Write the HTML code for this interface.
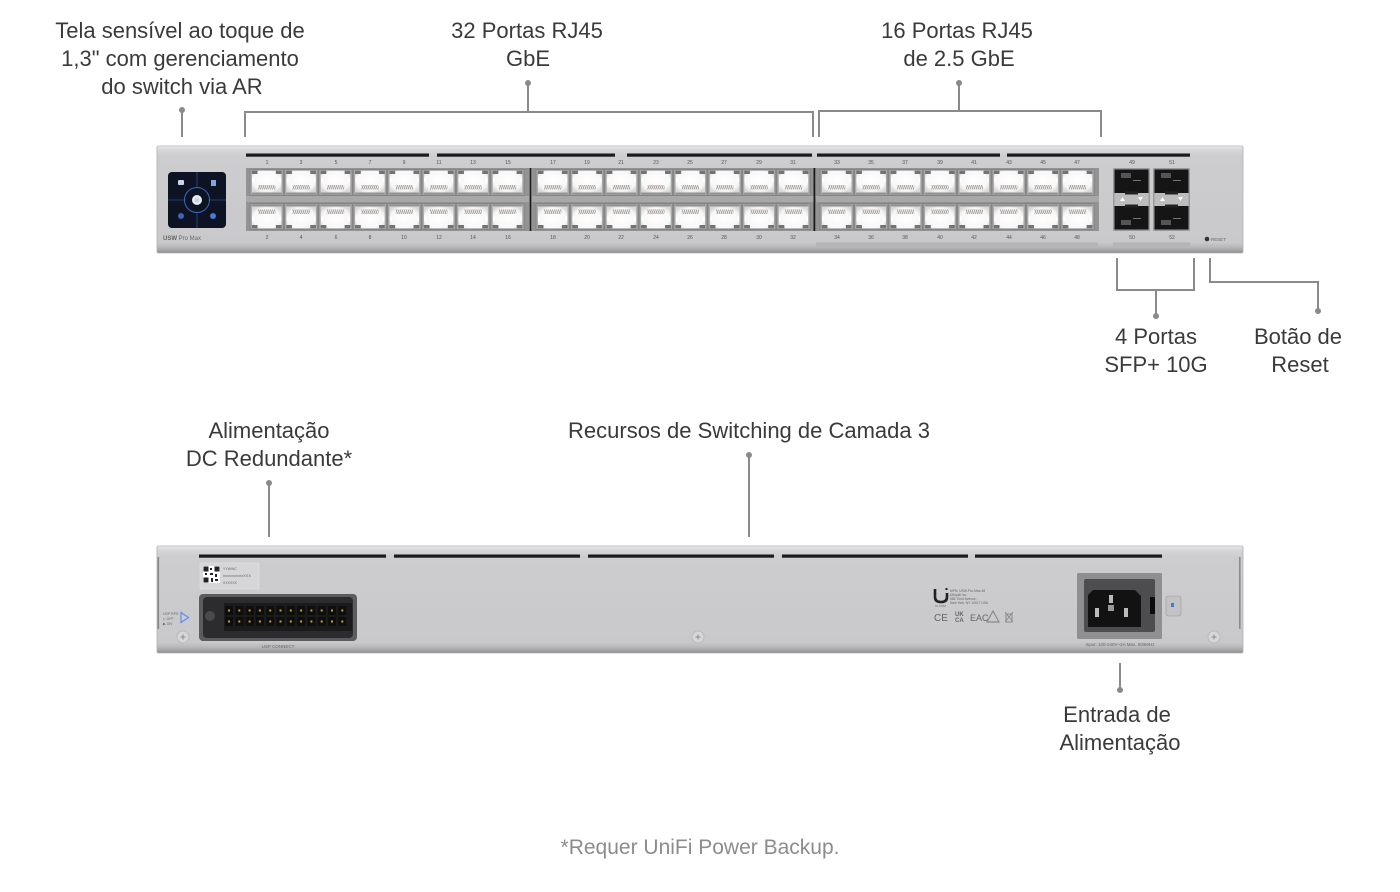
<!DOCTYPE html>
<html><head><meta charset="utf-8"><style>
html,body{margin:0;padding:0;background:#fff;}
svg{display:block;}
.lb{font-family:"Liberation Sans",sans-serif;font-size:22px;fill:#3a3a3a;text-anchor:middle;}
.ft{font-family:"Liberation Sans",sans-serif;font-size:21px;fill:#8c8c8c;text-anchor:middle;}
.pn{font-family:"Liberation Sans",sans-serif;font-size:5px;fill:#555;text-anchor:middle;}
.tiny{font-family:"Liberation Sans",sans-serif;fill:#666;}
</style></head><body>
<svg width="1400" height="892" viewBox="0 0 1400 892" xmlns="http://www.w3.org/2000/svg">
<defs>
  <linearGradient id="body" x1="0" y1="0" x2="0" y2="1">
    <stop offset="0" stop-color="#ededee"/>
    <stop offset="0.03" stop-color="#d8d8da"/>
    <stop offset="0.1" stop-color="#cdcdcf"/>
    <stop offset="0.9" stop-color="#c9c9cb"/>
    <stop offset="0.95" stop-color="#b6b6b8"/>
    <stop offset="1" stop-color="#8e8e90"/>
  </linearGradient>
  <radialGradient id="hole" cx="0.5" cy="0.45" r="0.62">
    <stop offset="0" stop-color="#ffffff"/>
    <stop offset="0.75" stop-color="#f7f7f7"/>
    <stop offset="1" stop-color="#d8d8d8"/>
  </radialGradient>
  <pattern id="hatch" width="2" height="6" patternUnits="userSpaceOnUse" patternTransform="skewX(-20)">
    <rect width="2" height="6" fill="#f0f0f0"/>
    <rect width="0.7" height="6" fill="#8a7a70"/>
  </pattern>
  <g id="pt">
    <rect width="34.4" height="27" fill="#858585"/>
    <rect x="1" y="1" width="32.4" height="25" fill="#a8a8a8"/>
    <path d="M8 1.8 H26.4 V5 H32 V23.5 H2.4 V5 H8 Z" fill="url(#hole)"/>
    <path d="M2.4 5 H8 V1.8 L2.4 1.8 Z M26.4 1.8 V5 H32 V1.8 Z" fill="#737373"/>
    <rect x="8.5" y="16" width="17.4" height="4.5" fill="url(#hatch)"/>
    <rect x="2.8" y="9" width="1.8" height="4" fill="#ffffff"/>
    <rect x="29.8" y="9" width="1.8" height="4" fill="#ffffff"/>
    <rect x="2.4" y="23.5" width="29.6" height="2.2" fill="#939393"/>
  </g>
  <g id="blk">
    <rect width="283" height="63" fill="#939393"/>
    <rect x="0" y="28" width="283" height="6" fill="#a8a8a8"/>
    <use href="#pt" x="3.5" y="1"/>
    <use href="#pt" x="37.9" y="1"/>
    <use href="#pt" x="72.3" y="1"/>
    <use href="#pt" x="106.7" y="1"/>
    <use href="#pt" x="141.1" y="1"/>
    <use href="#pt" x="175.5" y="1"/>
    <use href="#pt" x="209.9" y="1"/>
    <use href="#pt" x="244.3" y="1"/>
    <g transform="translate(0,62) scale(1,-1)">
      <use href="#pt" x="3.5" y="0"/>
      <use href="#pt" x="37.9" y="0"/>
      <use href="#pt" x="72.3" y="0"/>
      <use href="#pt" x="106.7" y="0"/>
      <use href="#pt" x="141.1" y="0"/>
      <use href="#pt" x="175.5" y="0"/>
      <use href="#pt" x="209.9" y="0"/>
      <use href="#pt" x="244.3" y="0"/>
    </g>
  </g>
  <g id="sfp">
    <rect width="37" height="63" rx="1.5" fill="#9a9a9a"/>
    <rect x="1.5" y="1.5" width="34" height="24" fill="#151515"/>
    <rect x="1.5" y="37.5" width="34" height="24" fill="#151515"/>
    <rect x="1.5" y="25" width="34" height="13" fill="#bdbdbd"/>
    <rect x="12" y="23.5" width="13" height="3" fill="#222"/>
    <rect x="12" y="36.5" width="13" height="3" fill="#222"/>
    <path d="M7 33 L9.5 29 L12 33 Z" fill="#fff"/>
    <path d="M25 29 L30 29 L27.5 33 Z" fill="#fff"/>
    <rect x="8" y="5" width="10" height="5" fill="#555"/>
    <rect x="8" y="52" width="10" height="5" fill="#555"/>
    <rect x="20" y="12" width="8" height="1" fill="#777"/>
    <rect x="20" y="50" width="8" height="1" fill="#777"/>
  </g>
  <g id="screw">
    <circle r="6.5" fill="#b9b9bb"/>
    <circle r="5.5" fill="#d7d7d9"/>
    <path d="M-2.5 0 H2.5 M0 -2.5 V2.5" stroke="#888" stroke-width="1"/>
  </g>
</defs>

<!-- ============ LABELS TOP ============ -->
<text class="lb" x="180" y="38">Tela sensível ao toque de</text>
<text class="lb" x="180" y="66">1,3" com gerenciamento</text>
<text class="lb" x="182" y="94">do switch via AR</text>
<text class="lb" x="527" y="38">32 Portas RJ45</text>
<text class="lb" x="528" y="66">GbE</text>
<text class="lb" x="957" y="38">16 Portas RJ45</text>
<text class="lb" x="959" y="66">de 2.5 GbE</text>

<g stroke="#8a8a8a" stroke-width="2" fill="none">
  <path d="M182 110 V137"/>
  <path d="M528 83 V112"/>
  <path d="M245 137 V112 H813 V137"/>
  <path d="M959 83 V111"/>
  <path d="M819 137 V111 H1101 V137"/>
  <path d="M1117 258 V290 H1194 V258"/>
  <path d="M1156 290 V316"/>
  <path d="M1210 258 V282 H1318 V311"/>
  <path d="M269 483 V537"/>
  <path d="M749 455 V537"/>
  <path d="M1120 663 V690"/>
</g>
<g fill="#8a8a8a">
  <circle cx="182" cy="110" r="3"/>
  <circle cx="528" cy="83" r="3"/>
  <circle cx="959" cy="83" r="3"/>
  <circle cx="1156" cy="316" r="3"/>
  <circle cx="1318" cy="311" r="3"/>
  <circle cx="269" cy="483" r="3"/>
  <circle cx="749" cy="455" r="3"/>
  <circle cx="1120" cy="690" r="3"/>
</g>

<text class="lb" x="1156" y="344">4 Portas</text>
<text class="lb" x="1156" y="372">SFP+ 10G</text>
<text class="lb" x="1298" y="344">Botão de</text>
<text class="lb" x="1300" y="372">Reset</text>

<text class="lb" x="269" y="438">Alimentação</text>
<text class="lb" x="269" y="466">DC Redundante*</text>
<text class="lb" x="749" y="438">Recursos de Switching de Camada 3</text>
<text class="lb" x="1117" y="722">Entrada de</text>
<text class="lb" x="1120" y="750">Alimentação</text>
<text class="ft" x="700" y="854">*Requer UniFi Power Backup.</text>

<!-- ============ FRONT PANEL ============ -->
<rect x="157" y="146" width="1086" height="107" rx="1.5" fill="url(#body)"/>
<rect x="157" y="146" width="1086" height="107" rx="1.5" fill="none" stroke="#b2b2b4" stroke-width="0.8"/>
<g fill="#1a1a1a">
  <rect x="246" y="153.5" width="183" height="3.2"/>
  <rect x="437" y="153.5" width="178" height="3.2"/>
  <rect x="627" y="153.5" width="185" height="3.2"/>
  <rect x="817" y="153.5" width="183" height="3.2"/>
  <rect x="1007" y="153.5" width="183" height="3.2"/>
</g>
<!-- touchscreen -->
<rect x="168" y="172" width="58" height="56" rx="4" fill="#0d1322"/>
<g stroke="#2a4f9a" stroke-width="0.8" fill="none">
  <path d="M197 172 V228 M168 200 H226"/>
  <circle cx="197" cy="200" r="12.5" stroke="#3a66c4" stroke-width="1"/>
</g>
<circle cx="197" cy="200" r="11.5" fill="#0d1322"/>
<circle cx="197" cy="200" r="5" fill="#e8ecf4"/>
<circle cx="197" cy="200" r="2.5" fill="#c8d2e6"/>
<rect x="178" y="180" width="6" height="5" rx="1" fill="#c9d4e8"/>
<rect x="211" y="180" width="5" height="6" fill="#7fa3e6"/>
<circle cx="181" cy="216" r="3" fill="#3d64b8"/>
<circle cx="213" cy="216" r="3" fill="#4a7ad6"/>
<text class="tiny" x="163" y="240" font-size="6" fill="#333"><tspan font-weight="bold">USW</tspan> Pro Max</text>

<!-- port blocks -->
<use href="#blk" x="246" y="168"/>
<use href="#blk" x="532" y="168"/>
<use href="#blk" x="816" y="168"/>
<rect x="529.5" y="168" width="2" height="63" fill="#1a1a1a"/>
<rect x="813.5" y="168" width="2" height="63" fill="#1a1a1a"/>

<!-- port numbers -->
<g class="pn">
<text x="267" y="164" class="pn">1</text><text x="301" y="164" class="pn">3</text><text x="336" y="164" class="pn">5</text><text x="370" y="164" class="pn">7</text><text x="404" y="164" class="pn">9</text><text x="439" y="164" class="pn">11</text><text x="473" y="164" class="pn">13</text><text x="508" y="164" class="pn">15</text>
<text x="553" y="164" class="pn">17</text><text x="587" y="164" class="pn">19</text><text x="621" y="164" class="pn">21</text><text x="656" y="164" class="pn">23</text><text x="690" y="164" class="pn">25</text><text x="724" y="164" class="pn">27</text><text x="759" y="164" class="pn">29</text><text x="793" y="164" class="pn">31</text>
<text x="837" y="164" class="pn">33</text><text x="871" y="164" class="pn">35</text><text x="905" y="164" class="pn">37</text><text x="940" y="164" class="pn">39</text><text x="974" y="164" class="pn">41</text><text x="1009" y="164" class="pn">43</text><text x="1043" y="164" class="pn">45</text><text x="1077" y="164" class="pn">47</text>
<text x="267" y="239" class="pn">2</text><text x="301" y="239" class="pn">4</text><text x="336" y="239" class="pn">6</text><text x="370" y="239" class="pn">8</text><text x="404" y="239" class="pn">10</text><text x="439" y="239" class="pn">12</text><text x="473" y="239" class="pn">14</text><text x="508" y="239" class="pn">16</text>
<text x="553" y="239" class="pn">18</text><text x="587" y="239" class="pn">20</text><text x="621" y="239" class="pn">22</text><text x="656" y="239" class="pn">24</text><text x="690" y="239" class="pn">26</text><text x="724" y="239" class="pn">28</text><text x="759" y="239" class="pn">30</text><text x="793" y="239" class="pn">32</text>
<text x="837" y="239" class="pn">34</text><text x="871" y="239" class="pn">36</text><text x="905" y="239" class="pn">38</text><text x="940" y="239" class="pn">40</text><text x="974" y="239" class="pn">42</text><text x="1009" y="239" class="pn">44</text><text x="1043" y="239" class="pn">46</text><text x="1077" y="239" class="pn">48</text>
<text x="1132" y="164" class="pn">49</text><text x="1172" y="164" class="pn">51</text>
<text x="1132" y="239" class="pn">50</text><text x="1172" y="239" class="pn">52</text>
</g>
<rect x="816" y="242.5" width="282" height="4" fill="#b4b4b6"/>
<rect x="1113" y="242.5" width="77" height="4" fill="#b4b4b6"/>
<!-- SFP -->
<use href="#sfp" x="1113" y="168"/>
<use href="#sfp" x="1153" y="168"/>
<!-- reset -->
<circle cx="1207" cy="239" r="2.3" fill="#333"/>
<text class="tiny" x="1211" y="240.8" font-size="4.5" fill="#555">RESET</text>

<!-- ============ REAR PANEL ============ -->
<rect x="157" y="546" width="1086" height="107" rx="1.5" fill="url(#body)"/>
<rect x="157" y="546" width="1086" height="107" rx="1.5" fill="none" stroke="#b2b2b4" stroke-width="0.8"/>
<rect x="157.5" y="557" width="1.6" height="72" fill="#8a8a8a"/>
<rect x="1239" y="557" width="1.6" height="72" fill="#8a8a8a"/>
<g fill="#1a1a1a">
  <rect x="199" y="554.5" width="187" height="3.2"/>
  <rect x="394" y="554.5" width="186" height="3.2"/>
  <rect x="588" y="554.5" width="186" height="3.2"/>
  <rect x="782" y="554.5" width="186" height="3.2"/>
  <rect x="975" y="554.5" width="187" height="3.2"/>
</g>
<!-- QR label -->
<rect x="200" y="563" width="59" height="26" fill="#d6d6d8" stroke="#e2e2e4" stroke-width="0.6"/>
<rect x="203" y="566" width="17" height="17" fill="#fff"/>
<g fill="#222">
  <rect x="203.5" y="566.5" width="5" height="5"/><rect x="214.5" y="566.5" width="5" height="5"/><rect x="203.5" y="577.5" width="5" height="5"/>
  <rect x="210" y="568" width="2" height="2"/><rect x="210" y="573" width="3" height="2"/><rect x="205" y="573" width="2" height="2"/><rect x="215" y="574" width="2" height="3"/><rect x="211" y="578" width="2" height="4"/><rect x="215" y="579" width="3" height="2"/>
</g>
<text class="tiny" x="223" y="570" font-size="3.5">YYWWC</text>
<text class="tiny" x="223" y="577" font-size="4">xxxxxxxxxxXXX</text>
<text class="tiny" x="223" y="584" font-size="3.5">XXXXXX</text>
<!-- USP connector -->
<rect x="199" y="594" width="158" height="47" rx="4" fill="#5c5c5e"/>
<rect x="203" y="597" width="150" height="41" rx="4" fill="#2c2c2e"/>
<circle cx="210" cy="616" r="5" fill="#4a4a4a"/>
<rect x="224" y="603" width="128" height="28" fill="#1b1b1b"/>
<g fill="#0e0e0e">
  <rect x="225" y="606" width="8" height="9"/><rect x="235.3" y="606" width="8" height="9"/><rect x="245.6" y="606" width="8" height="9"/><rect x="255.9" y="606" width="8" height="9"/><rect x="266.2" y="606" width="8" height="9"/><rect x="276.5" y="606" width="8" height="9"/><rect x="286.8" y="606" width="8" height="9"/><rect x="297.1" y="606" width="8" height="9"/><rect x="307.4" y="606" width="8" height="9"/><rect x="317.7" y="606" width="8" height="9"/><rect x="328" y="606" width="8" height="9"/><rect x="338.3" y="606" width="8" height="9"/>
  <rect x="225" y="617" width="8" height="9"/><rect x="235.3" y="617" width="8" height="9"/><rect x="245.6" y="617" width="8" height="9"/><rect x="255.9" y="617" width="8" height="9"/><rect x="266.2" y="617" width="8" height="9"/><rect x="276.5" y="617" width="8" height="9"/><rect x="286.8" y="617" width="8" height="9"/><rect x="297.1" y="617" width="8" height="9"/><rect x="307.4" y="617" width="8" height="9"/><rect x="317.7" y="617" width="8" height="9"/><rect x="328" y="617" width="8" height="9"/><rect x="338.3" y="617" width="8" height="9"/>
</g>
<g fill="#c8a040">
  <rect x="228" y="609.5" width="2" height="2"/><rect x="238.3" y="609.5" width="2" height="2"/><rect x="248.6" y="609.5" width="2" height="2"/><rect x="258.9" y="609.5" width="2" height="2"/><rect x="269.2" y="609.5" width="2" height="2"/><rect x="279.5" y="609.5" width="2" height="2"/><rect x="289.8" y="609.5" width="2" height="2"/><rect x="300.1" y="609.5" width="2" height="2"/><rect x="310.4" y="609.5" width="2" height="2"/><rect x="320.7" y="609.5" width="2" height="2"/><rect x="331" y="609.5" width="2" height="2"/><rect x="341.3" y="609.5" width="2" height="2"/>
  <rect x="228" y="620.5" width="2" height="2"/><rect x="238.3" y="620.5" width="2" height="2"/><rect x="248.6" y="620.5" width="2" height="2"/><rect x="258.9" y="620.5" width="2" height="2"/><rect x="269.2" y="620.5" width="2" height="2"/><rect x="279.5" y="620.5" width="2" height="2"/><rect x="289.8" y="620.5" width="2" height="2"/><rect x="300.1" y="620.5" width="2" height="2"/><rect x="310.4" y="620.5" width="2" height="2"/><rect x="320.7" y="620.5" width="2" height="2"/><rect x="331" y="620.5" width="2" height="2"/><rect x="341.3" y="620.5" width="2" height="2"/>
</g>
<text class="tiny" x="278" y="648" font-size="4.5" text-anchor="middle">USP CONNECT</text>
<!-- left switch -->
<text class="tiny" x="163" y="615" font-size="3.5">USP RPS</text>
<text class="tiny" x="163" y="620" font-size="3.5">▷ OFF</text>
<text class="tiny" x="163" y="625" font-size="3.5" fill="#4a7ad6">▶ ON</text>
<path d="M181 612.5 L188.5 617.5 L181 622.5 Z" fill="none" stroke="#5b8ef0" stroke-width="1.2"/>
<!-- screws -->
<use href="#screw" x="183" y="637"/>
<use href="#screw" x="698" y="637"/>
<use href="#screw" x="1214" y="637"/>
<!-- UI logo & certs -->
<path d="M935 589 V597 Q935 602 941 602 Q947 602 947 597 V593" fill="none" stroke="#222" stroke-width="2.6"/>
<rect x="945.5" y="588" width="2" height="2" fill="#222"/>
<text class="tiny" x="935" y="607" font-size="3">UI.COM</text>
<text class="tiny" x="950" y="592" font-size="3.3">MPN: USW-Pro-Max-48</text>
<text class="tiny" x="950" y="596" font-size="3.3">Ubiquiti Inc.</text>
<text class="tiny" x="950" y="600" font-size="3.3">685 Third Avenue,</text>
<text class="tiny" x="950" y="604" font-size="3.3">New York, NY 10017 USA</text>
<text class="tiny" x="934" y="621" font-size="10" fill="#8a8a8a">CE</text>
<text class="tiny" x="955" y="616" font-size="6" font-weight="bold" fill="#8a8a8a">UK</text>
<text class="tiny" x="955" y="622" font-size="6" font-weight="bold" fill="#8a8a8a">CA</text>
<text class="tiny" x="970" y="621" font-size="9" fill="#8a8a8a">EAC</text>
<path d="M987 622 L993 611 L999 622 Z" fill="none" stroke="#8a8a8a" stroke-width="1.2"/>
<path d="M1005 612 L1013 622 M1013 612 L1005 622 M1006 614 H1012 V622 H1006 Z" fill="none" stroke="#8a8a8a" stroke-width="1"/>
<!-- power inlet -->
<rect x="1077" y="573" width="85" height="66" rx="1.5" fill="#8f8f91"/>
<rect x="1084" y="579" width="71" height="53" rx="2" fill="#4d4d4f"/>
<path d="M1093 590 H1135 L1141 596 V627 H1088 V595 Z" fill="#121212"/>
<rect x="1109" y="595" width="4" height="8" fill="#bbb"/>
<rect x="1108" y="605" width="6" height="6" fill="#999"/>
<rect x="1095" y="608" width="4" height="9" fill="#bbb"/>
<rect x="1124" y="608" width="4" height="9" fill="#bbb"/>
<rect x="1150" y="597" width="5" height="17" fill="#0c0c0c"/>
<rect x="1166" y="596" width="15" height="20" rx="2.5" fill="#c3c3c5" stroke="#999" stroke-width="0.6"/>
<rect x="1171" y="603" width="3" height="4" fill="#3f7ae0"/>
<text class="tiny" x="1120" y="646" font-size="4.5" text-anchor="middle">Input: 100-240V~2A Max. 50/60Hz</text>
</svg>
</body></html>
